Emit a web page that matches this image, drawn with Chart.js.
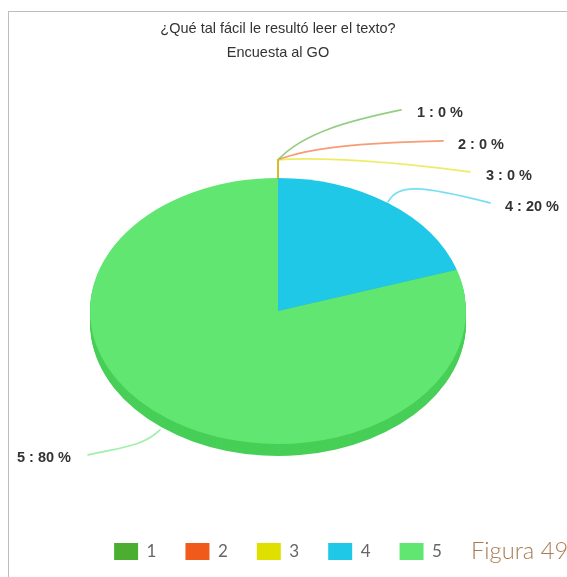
<!DOCTYPE html>
<html><head><meta charset="utf-8">
<style>
html,body{margin:0;padding:0;background:#fff;width:567px;height:577px;overflow:hidden}
#frame{position:absolute;left:8px;top:11px;width:559px;height:566px;border-top:1px solid #bdbdbd;border-left:1px solid #bdbdbd;box-sizing:border-box}
#wrap{position:absolute;left:0;top:0;width:567px;height:577px;filter:blur(.4px)}
#fig{position:absolute;left:471px;top:536px;font:300 23.7px Lato,sans-serif;color:#a67c52;white-space:nowrap;filter:blur(.3px)}
</style>
<script src="https://cdn.jsdelivr.net/npm/chart.js@4"></script>
</head><body>
<div id="frame"></div>
<div id="wrap"><canvas id="c"></canvas></div>
<div id="fig">Figura 49</div>
<script>
const titleLines = ['¿Qué tal fácil le resultó leer el texto?', 'Encuesta al GO'];
const categories = ['1', '2', '3', '4', '5'];
const percentValues = [0, 0, 0, 20, 80];
const sliceColors = ['#4cae30', '#f05a1a', '#e0e000', '#20c8e8', '#62e672'];
const sideColors = ['#3f9428', '#c94a14', '#bcbc00', '#1aa8c4', '#47cf57'];
const leaderColors = ['#4cae30', '#f05a1a', '#e0e000', '#20c8e8', '#62e672'];

const squash = 133 / 188;
const depth = 12;
// leader curves and label anchors, offset from the pie centre: [start, ctrl1, ctrl2, end], label
const leaders = [
  {stem: true, path: [[0,-151],[25,-178],[70,-190],[123,-201]], label: [139,-198]},
  {stem: true, path: [[0,-151],[30,-163],[80,-168],[165,-170]], label: [180,-166]},
  {stem: true, path: [[0,-151],[40,-154],[110,-150],[192,-139]], label: [208,-135]},
  {stem: false, path: [[110,-109],[120,-127],[142,-126],[212,-108]], label: [227,-104]},
  {stem: false, path: [[-118,119],[-135,136],[-160,137],[-190,144]], label: [-261,147]}
];

const ellipsePie = {
  id: 'ellipsePie',
  beforeDatasetsDraw(chart) {
    const ctx = chart.ctx, arcs = chart.getDatasetMeta(0).data;
    arcs.forEach((a, i) => {
      if (a.circumference <= 0) return;
      ctx.fillStyle = sideColors[i];
      for (let d = depth; d > 0; d--) {
        ctx.save();
        ctx.translate(a.x, a.y + d);
        ctx.scale(1, squash);
        ctx.beginPath();
        ctx.moveTo(0, 0);
        ctx.arc(0, 0, a.outerRadius, a.startAngle, a.endAngle);
        ctx.closePath();
        ctx.fill();
        ctx.restore();
      }
    });
    const a0 = arcs[0];
    ctx.save();
    ctx.translate(a0.x, a0.y);
    ctx.scale(1, squash);
    ctx.translate(-a0.x, -a0.y);
  },
  afterDatasetsDraw(chart) {
    const ctx = chart.ctx;
    ctx.restore();
    const a0 = chart.getDatasetMeta(0).data[0];
    const cx = a0.x, cy = a0.y;
    ctx.save();
    ctx.lineWidth = 1.7;
    ctx.lineCap = 'round';
    leaders.forEach((l, i) => {
      ctx.strokeStyle = leaderColors[i];
      ctx.globalAlpha = 0.6;
      const p = l.path;
      ctx.beginPath();
      if (l.stem) { ctx.moveTo(cx, cy - a0.outerRadius * squash); ctx.lineTo(cx + p[0][0], cy + p[0][1]); }
      else ctx.moveTo(cx + p[0][0], cy + p[0][1]);
      ctx.bezierCurveTo(cx + p[1][0], cy + p[1][1], cx + p[2][0], cy + p[2][1], cx + p[3][0], cy + p[3][1]);
      ctx.stroke();
      ctx.globalAlpha = 1;
      ctx.fillStyle = '#333';
      ctx.font = 'bold 14.5px "Liberation Sans", Arial, sans-serif';
      ctx.textBaseline = 'middle';
      ctx.textAlign = 'left';
      ctx.fillText(categories[i] + ' : ' + percentValues[i] + ' %', cx + l.label[0], cy + l.label[1]);
    });
    ctx.restore();
  }
};

new Chart(document.getElementById('c'), {
  type: 'pie',
  data: {
    labels: categories,
    datasets: [{ data: percentValues, backgroundColor: sliceColors, borderWidth: 0, hoverOffset: 0, radius: 188 }]
  },
  options: {
    responsive: true, maintainAspectRatio: false, animation: false,
    layout: { padding: { top: 0, bottom: 7, right: 11 } },
    plugins: {
      tooltip: { enabled: false },
      title: {
        display: true, text: titleLines, color: '#333',
        font: { family: '"Liberation Sans", Arial, sans-serif', size: 14.5, weight: 'normal', lineHeight: 1.65 },
        padding: { top: 17, bottom: 43 }
      },
      legend: {
        position: 'bottom',
        labels: {
          boxWidth: 24, boxHeight: 17, padding: 29, color: '#666',
          font: { family: 'Lato, sans-serif', size: 17 }
        }
      }
    }
  },
  plugins: [ellipsePie]
});
</script>
</body></html>
